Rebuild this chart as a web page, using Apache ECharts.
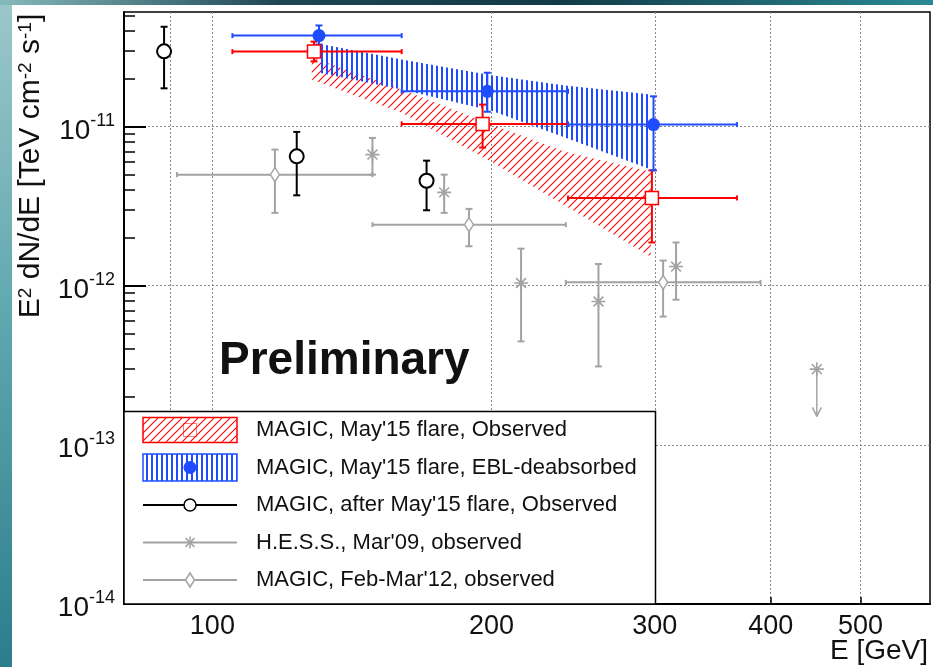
<!DOCTYPE html>
<html>
<head>
<meta charset="utf-8">
<title>SED</title>
<script src="https://cdn.jsdelivr.net/npm/echarts@6/dist/echarts.min.js"></script>
<style>
  html, body { margin: 0; padding: 0; }
  #wrap { position: relative; width: 933px; height: 667px; overflow: hidden;
          background: linear-gradient(180deg, #9cc7c9 0%, #62a9b1 45%, #2b7d8c 100%); }
  #topstrip { position: absolute; left: 0; top: 0; width: 933px; height: 5px;
          background: linear-gradient(90deg, #86b9bc 0%, #1d4652 30%, #113b47 60%, #2a8a94 100%); }
  #panel { position: absolute; left: 12px; top: 5px; right: 0; bottom: 0; background: #fff; }
  #chart { position: absolute; left: 0; top: 0; width: 933px; height: 667px; }
</style>
</head>
<body>
<div id="wrap">
  <div id="topstrip"></div>
  <div id="panel"></div>
  <div id="chart"></div>
</div>
<script>
// axis ranges (GeV, TeV cm-2 s-1)
const xRange = [80.3, 594];
const yRange = [1e-14, 5.25e-11];
const xTickValues = [90, 100, 200, 300, 400, 500];
const xLabelValues = [100, 200, 300, 400, 500];
const yDecades = [1e-14, 1e-13, 1e-12, 1e-11];
const yMinorSteps = [2, 3, 4, 5, 6, 7, 8, 9];

// MAGIC, May'15 flare, Observed (open squares)
const obsE = [128.7, 195.6, 297.8];
const obsF = [2.96e-11, 1.04e-11, 3.56e-12];
const obsELo = [105.1, 160.0, 241.8];
const obsEHi = [160.0, 241.8, 367.8];
const obsFLo = [2.57e-11, 7.38e-12, 1.87e-12];
const obsFHi = [3.42e-11, 1.375e-11, 5.31e-12];

// MAGIC, May'15 flare, EBL-deabsorbed (filled circles)
const deaE = [130.3, 197.9, 299.0];
const deaF = [3.73e-11, 1.667e-11, 1.03e-11];
const deaELo = [105.1, 160.0, 241.8];
const deaEHi = [160.0, 241.8, 367.8];
const deaFLo = [3.28e-11, 1.24e-11, 5.31e-12];
const deaFHi = [4.32e-11, 2.18e-11, 1.55e-11];

// butterflies
const obsBandE = [128, 160, 200, 240, 297];
const obsBandHi = [2.72e-11, 1.71e-11, 1.03e-11, 6.96e-12, 5.21e-12];
const obsBandLo = [1.98e-11, 1.22e-11, 6.02e-12, 3.19e-12, 1.52e-12];
const deaBandE = [130, 160, 200, 240, 297];
const deaBandHi = [3.33e-11, 2.64e-11, 2.10e-11, 1.81e-11, 1.59e-11];
const deaBandLo = [2.19e-11, 1.71e-11, 1.26e-11, 8.53e-12, 5.37e-12];

// MAGIC, after May'15 flare, Observed (open circles)
const postE = [88.7, 123.3, 170.2];
const postF = [2.97e-11, 6.5e-12, 4.57e-12];
const postFLo = [1.74e-11, 3.7e-12, 2.98e-12];
const postFHi = [4.24e-11, 9.26e-12, 6.11e-12];

// H.E.S.S., Mar'09 (stars) + upper limit
const hessE = [148.8, 177.8, 215.2, 260.8, 316.2];
const hessF = [6.67e-12, 3.86e-12, 1.04e-12, 7.96e-13, 1.32e-12];
const hessFLo = [4.99e-12, 2.87e-12, 4.47e-13, 3.11e-13, 8.17e-13];
const hessFHi = [8.49e-12, 4.99e-12, 1.71e-12, 1.37e-12, 1.87e-12];
const hessUlE = [448.5];
const hessUlF = [2.99e-13];
const hessUlArrow = [1.51e-13];

// MAGIC, Feb-Mar'12 (diamonds)
const m12E = [116.8, 189.1, 306.2];
const m12F = [4.99e-12, 2.42e-12, 1.05e-12];
const m12ELo = [91.6, 148.8, 240.5];
const m12EHi = [148.8, 240.5, 390.0];
const m12FLo = [2.87e-12, 1.77e-12, 6.4e-13];
const m12FHi = [7.17e-12, 3.04e-12, 1.44e-12];

const legendLabels = [
  "MAGIC, May'15 flare, Observed",
  "MAGIC, May'15 flare, EBL-deabsorbed",
  "MAGIC, after May'15 flare, Observed",
  "H.E.S.S., Mar'09, observed",
  "MAGIC, Feb-Mar'12, observed"
];

const FONT = '"Liberation Sans", Arial, Helvetica, sans-serif';
const RED = '#ff0000', BLUE = '#1f4cff', BLACK = '#000000', GRAY = '#a3a3a3';
const lg = Math.log10;

// hatch patterns
function makeHatch(color, kind) {
  const c = document.createElement('canvas');
  const ctx = c.getContext('2d');
  if (kind === 'diag') {
    c.width = 8; c.height = 8;
    ctx.strokeStyle = color;
    ctx.lineWidth = 1.1;
    ctx.beginPath();
    ctx.moveTo(-1, 9); ctx.lineTo(9, -1);
    ctx.moveTo(-5, 5); ctx.lineTo(5, -5);
    ctx.moveTo(3, 13); ctx.lineTo(13, 3);
    ctx.stroke();
  } else {
    c.width = 5; c.height = 4;
    ctx.fillStyle = color;
    ctx.fillRect(1, 0, 2, 4);
  }
  return { image: c, repeat: 'repeat' };
}
const redHatch = makeHatch(RED, 'diag');
const blueHatch = makeHatch(BLUE, 'vert');

function bandSeries(E, lo, hi, pattern, z) {
  return {
    type: 'custom', silent: true, z: z,
    data: E.map((e, i) => [lg(e), lg(lo[i]), lg(hi[i])]),
    renderItem: function (params, api) {
      if (params.dataIndex !== 0) return null;
      const pts = [];
      for (let i = 0; i < E.length; i++) pts.push(api.coord([lg(E[i]), lg(hi[i])]));
      for (let i = E.length - 1; i >= 0; i--) pts.push(api.coord([lg(E[i]), lg(lo[i])]));
      return { type: 'polygon', shape: { points: pts }, style: { fill: pattern, stroke: null } };
    }
  };
}

function errorSeries(E, F, ELo, EHi, FLo, FHi, color, width, z) {
  return {
    type: 'custom', silent: true, z: z,
    data: E.map((e, i) => [lg(e), lg(F[i]), lg(ELo[i]), lg(EHi[i]), lg(FLo[i]), lg(FHi[i])]),
    renderItem: function (params, api) {
      const x = api.value(0), y = api.value(1);
      const st = { stroke: color, lineWidth: width };
      const kids = [];
      const seg = (a, b) => kids.push({ type: 'line', shape: { x1: a[0], y1: a[1], x2: b[0], y2: b[1] }, style: st });
      if (api.value(3) > api.value(2)) {
        const a = api.coord([api.value(2), y]), b = api.coord([api.value(3), y]);
        seg(a, b);
        seg([a[0], a[1] - 2.5], [a[0], a[1] + 2.5]);
        seg([b[0], b[1] - 2.5], [b[0], b[1] + 2.5]);
      }
      if (api.value(5) > api.value(4)) {
        const a = api.coord([x, api.value(4)]), b = api.coord([x, api.value(5)]);
        seg(a, b);
        seg([a[0] - 3.5, a[1]], [a[0] + 3.5, a[1]]);
        seg([b[0] - 3.5, b[1]], [b[0] + 3.5, b[1]]);
      }
      return { type: 'group', children: kids };
    }
  };
}

const STAR = 'path://M6,0L6,12M0,6L12,6M1.8,1.8L10.2,10.2M1.8,10.2L10.2,1.8';

function markers(E, F, symbol, size, style, z) {
  return {
    type: 'scatter', silent: true, z: z,
    data: E.map((e, i) => [lg(e), lg(F[i])]),
    symbol: symbol, symbolSize: size, itemStyle: style
  };
}

const yMinor = [];
yDecades.forEach(d => yMinorSteps.forEach(k => { if (k * d < yRange[1]) yMinor.push(lg(k * d)); }));

// legend drawn as graphics
const lgX = 124, lgY = 411.5, lgW = 531.5, lgH = 192.5;
const rowY = [430, 467.5, 505, 542.5, 580];
const symL = 143, symR = 237, symC = 190;
const starArm = 6, starDiag = 4.4;
const gfx = [
  { type: 'rect', z: 100, shape: { x: lgX, y: lgY, width: lgW, height: lgH },
    style: { fill: '#fff', stroke: BLACK, lineWidth: 1.5 } },
  { type: 'rect', z: 101, shape: { x: symL, y: rowY[0] - 12.5, width: symR - symL, height: 25 },
    style: { fill: redHatch, stroke: RED, lineWidth: 1.5 } },
  { type: 'rect', z: 102, shape: { x: symC - 6.5, y: rowY[0] - 6.5, width: 13, height: 13 },
    style: { fill: null, stroke: RED, lineWidth: 1, opacity: 0.5 } },
  { type: 'rect', z: 101, shape: { x: symL, y: rowY[1] - 13.5, width: symR - symL, height: 27 },
    style: { fill: blueHatch, stroke: BLUE, lineWidth: 1.5 } },
  { type: 'circle', z: 102, shape: { cx: symC, cy: rowY[1], r: 6.5 }, style: { fill: BLUE } },
  { type: 'line', z: 101, shape: { x1: symL, y1: rowY[2], x2: symR, y2: rowY[2] }, style: { stroke: BLACK, lineWidth: 2 } },
  { type: 'circle', z: 102, shape: { cx: symC, cy: rowY[2], r: 6 }, style: { fill: '#fff', stroke: BLACK, lineWidth: 1.5 } },
  { type: 'line', z: 101, shape: { x1: symL, y1: rowY[3], x2: symR, y2: rowY[3] }, style: { stroke: GRAY, lineWidth: 2 } },
  { type: 'line', z: 102, shape: { x1: symC, y1: rowY[3] - starArm, x2: symC, y2: rowY[3] + starArm }, style: { stroke: GRAY, lineWidth: 1.5 } },
  { type: 'line', z: 102, shape: { x1: symC - starDiag, y1: rowY[3] - starDiag, x2: symC + starDiag, y2: rowY[3] + starDiag }, style: { stroke: GRAY, lineWidth: 1.5 } },
  { type: 'line', z: 102, shape: { x1: symC - starDiag, y1: rowY[3] + starDiag, x2: symC + starDiag, y2: rowY[3] - starDiag }, style: { stroke: GRAY, lineWidth: 1.5 } },
  { type: 'line', z: 101, shape: { x1: symL, y1: rowY[4], x2: symR, y2: rowY[4] }, style: { stroke: GRAY, lineWidth: 2 } },
  { type: 'polygon', z: 102, shape: { points: [[symC, rowY[4] - 7], [symC + 4.5, rowY[4]], [symC, rowY[4] + 7], [symC - 4.5, rowY[4]]] },
    style: { fill: '#fff', stroke: GRAY, lineWidth: 1.5 } }
];
legendLabels.forEach((t, i) => gfx.push({
  type: 'text', z: 102, x: 256, y: rowY[i],
  style: { text: t, fill: '#111', fontSize: 22, fontFamily: FONT, align: 'left', verticalAlign: 'middle' }
}));
gfx.push({
  type: 'text', z: 50, x: 219, y: 361,
  style: { text: 'Preliminary', fill: '#111', fontSize: 46, fontWeight: 'bold', fontFamily: FONT, align: 'left', verticalAlign: 'middle' }
});
gfx.push({
  type: 'text', z: 50, x: 928, y: 651,
  style: { text: 'E [GeV]', fill: '#111', fontSize: 28, fontFamily: FONT, align: 'right', verticalAlign: 'middle' }
});
gfx.push({
  type: 'text', z: 50, x: 31, y: 166, rotation: Math.PI / 2,
  style: {
    text: 'E{s|2} dN/dE [TeV cm{s|-2} s{s|-1}]',
    fill: '#111', fontSize: 30, fontFamily: FONT, align: 'center', verticalAlign: 'middle',
    rich: { s: { fontSize: 19, fontFamily: FONT, fill: '#111', verticalAlign: 'top', lineHeight: 10 } }
  }
});

const chart = echarts.init(document.getElementById('chart'), null, { renderer: 'canvas' });
chart.setOption({
  animation: false,
  grid: { left: 124, right: 3, top: 12, bottom: 63, show: true, borderColor: BLACK, borderWidth: 1.5 },
  xAxis: {
    type: 'value', min: lg(xRange[0]), max: lg(xRange[1]),
    axisLine: { show: true, onZero: false, lineStyle: { color: BLACK, width: 2 } },
    axisTick: { show: true, inside: true, length: 7, customValues: xTickValues.map(lg), lineStyle: { color: BLACK, width: 1.5 } },
    axisLabel: {
      customValues: xLabelValues.map(lg), margin: 9,
      formatter: v => String(Math.round(Math.pow(10, v))),
      fontSize: 27, fontFamily: FONT, color: '#111'
    },
    splitLine: { show: true, lineStyle: { type: [2, 2], color: '#8a8a8a', width: 1 } }
  },
  yAxis: [{
    type: 'value', min: lg(yRange[0]), max: lg(yRange[1]),
    axisLine: { show: true, onZero: false, lineStyle: { color: BLACK, width: 2 } },
    axisTick: { show: true, inside: true, length: 22, customValues: yDecades.map(lg), lineStyle: { color: BLACK, width: 2 } },
    axisLabel: {
      customValues: yDecades.map(lg), margin: 9,
      formatter: v => '{b|10}{s|' + Math.round(v) + '}',
      rich: {
        b: { fontSize: 28, fontFamily: FONT, color: '#111', lineHeight: 30, padding: [9, 0, 0, 0] },
        s: { fontSize: 18, fontFamily: FONT, color: '#111', verticalAlign: 'top', lineHeight: 8 }
      }
    },
    splitLine: { show: true, lineStyle: { type: [2, 2], color: '#8a8a8a', width: 1 } }
  }, {
    type: 'value', min: lg(yRange[0]), max: lg(yRange[1]), position: 'left',
    axisLine: { show: false },
    axisTick: { show: true, inside: true, length: 11, customValues: yMinor, lineStyle: { color: BLACK, width: 1.5 } },
    axisLabel: { show: false },
    splitLine: { show: false }
  }],
  graphic: { elements: gfx },
  series: [
    bandSeries(obsBandE, obsBandLo, obsBandHi, redHatch, 2),
    bandSeries(deaBandE, deaBandLo, deaBandHi, blueHatch, 3),
    errorSeries(m12E, m12F, m12ELo, m12EHi, m12FLo, m12FHi, GRAY, 2, 4),
    errorSeries(hessE, hessF, hessE, hessE, hessFLo, hessFHi, GRAY, 2, 4),
    errorSeries(postE, postF, postE, postE, postFLo, postFHi, BLACK, 2, 5),
    errorSeries(obsE, obsF, obsELo, obsEHi, obsFLo, obsFHi, RED, 2, 6),
    errorSeries(deaE, deaF, deaELo, deaEHi, deaFLo, deaFHi, BLUE, 2, 7),
    {
      type: 'custom', silent: true, z: 4,
      data: hessUlE.map((e, i) => [lg(e), lg(hessUlF[i]), lg(hessUlArrow[i])]),
      renderItem: function (params, api) {
        const a = api.coord([api.value(0), api.value(1)]);
        const b = api.coord([api.value(0), api.value(2)]);
        const st = { stroke: GRAY, lineWidth: 1.5, fill: null };
        return { type: 'group', children: [
          { type: 'line', shape: { x1: a[0], y1: a[1], x2: b[0], y2: b[1] }, style: st },
          { type: 'line', shape: { x1: b[0] - 4.5, y1: b[1] - 9, x2: b[0], y2: b[1] }, style: st },
          { type: 'line', shape: { x1: b[0] + 4.5, y1: b[1] - 9, x2: b[0], y2: b[1] }, style: st }
        ] };
      }
    },
    markers(m12E, m12F, 'diamond', [9, 14], { color: '#fff', borderColor: GRAY, borderWidth: 1.5, opacity: 1 }, 8),
    markers(hessE, hessF, STAR, 14, { color: 'none', borderColor: GRAY, borderWidth: 1.6, opacity: 1 }, 8),
    markers(hessUlE, hessUlF, STAR, 14, { color: 'none', borderColor: GRAY, borderWidth: 1.6, opacity: 1 }, 8),
    markers(postE, postF, 'circle', 14, { color: '#fff', borderColor: BLACK, borderWidth: 2, opacity: 1 }, 9),
    markers(obsE, obsF, 'rect', 13, { color: '#fff', borderColor: RED, borderWidth: 1.5, opacity: 1 }, 10),
    markers(deaE, deaF, 'circle', 13, { color: BLUE, opacity: 1 }, 11)
  ]
});
</script>
</body>
</html>
